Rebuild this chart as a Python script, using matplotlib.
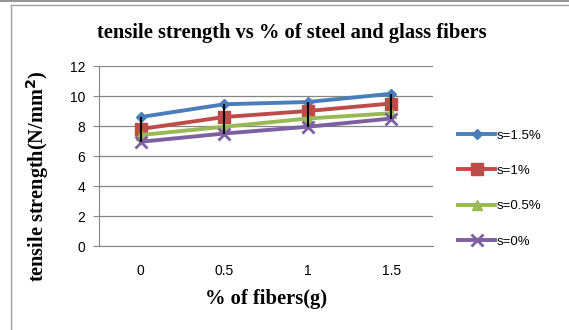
import matplotlib.pyplot as plt
import numpy as np

fibers = ["0", "0.5", "1", "1.5"]
series_names = ["s=1.5%", "s=1%", "s=0.5%", "s=0%"]
s15 = [8.6, 9.45, 9.6, 10.15]
s10 = [7.8, 8.6, 9.0, 9.5]
s05 = [7.4, 7.95, 8.5, 8.85]
s00 = [6.95, 7.5, 7.95, 8.5]

colors = ["#4A7EBB", "#BE4B48", "#98B954", "#7D60A0"]
markers = ["D", "s", "^", "x"]
msizes = [5, 8, 7, 8]

fig = plt.figure(figsize=(5.69, 3.30), dpi=100)
ax = fig.add_axes([0.174, 0.2545, 0.587, 0.5455])

x = np.arange(len(fibers))
allv = np.array([s15, s10, s05, s00])
ax.vlines(x, allv.min(axis=0), allv.max(axis=0), color="black", lw=1.5, zorder=4)

for vals, name, c, m, ms in zip([s15, s10, s05, s00], series_names, colors, markers, msizes):
    ax.plot(x, vals, color=c, lw=2.8, marker=m, ms=ms, mew=2 if m == "x" else 1,
            mec=c, mfc=c, label=name, zorder=3)

ax.set_xlim(-0.5, 3.5)
ax.set_ylim(0, 12)
ax.set_yticks(range(0, 13, 2))
ax.set_xticks(x)
ax.set_xticklabels(fibers)
ax.grid(axis="y", color="#868686", lw=0.9)
ax.set_axisbelow(True)
for sp in ["top", "right"]:
    ax.spines[sp].set_visible(False)
for sp in ["left", "bottom"]:
    ax.spines[sp].set_color("#868686")
ax.tick_params(axis="y", length=4, color="#868686", labelsize=10, pad=6)
ax.tick_params(axis="x", length=0, labelsize=10, pad=13)
for lab in ax.get_xticklabels() + ax.get_yticklabels():
    lab.set_fontfamily("Liberation Sans")

fig.text(266 / 569, 1 - 299 / 330, "% of fibers(g)", family="Liberation Serif", weight="bold",
         fontsize=14.8, ha="center", va="center")
fig.text(38 / 569, 1 - 176 / 330, "tensile strength(N/mm$^\\mathbf{2}$)", family="Liberation Serif",
         weight="bold", fontsize=14.6, ha="center", va="center", rotation=90)
fig.text(292 / 569, 1 - 33 / 330, "tensile strength vs % of steel and glass fibers",
         family="Liberation Serif", weight="bold", fontsize=14.8, ha="center", va="center")

leg = ax.legend(loc="center left", bbox_to_anchor=(1.04, 0.32), frameon=False,
                prop={"family": "Liberation Sans", "size": 9.5}, labelspacing=1.75,
                handlelength=2.8, handletextpad=0.1)

# chart frame
fig.add_artist(plt.Line2D([0, 1], [0.996, 0.996], color="#808080", lw=1.2))
fig.add_artist(plt.Line2D([11 / 569, 1], [1 - 5 / 330, 1 - 5 / 330], color="#A0A0A0", lw=1))
fig.add_artist(plt.Line2D([11 / 569, 11 / 569], [0, 1 - 5 / 330], color="#A0A0A0", lw=1))

fig.savefig("out.png", dpi=100)
